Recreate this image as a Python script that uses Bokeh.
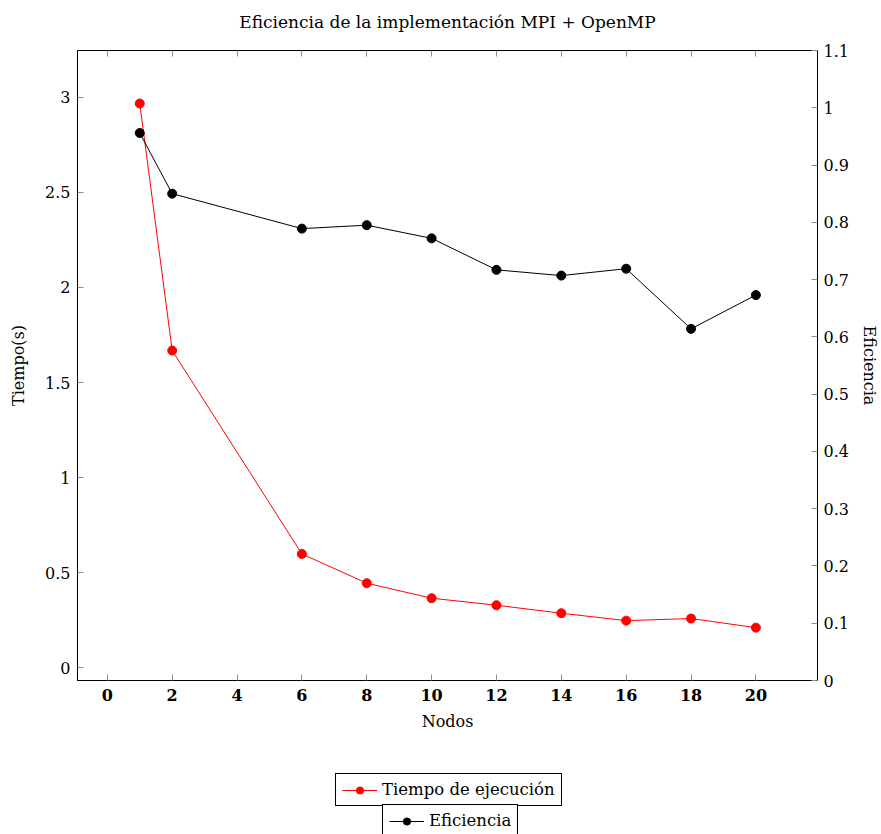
from bokeh.plotting import figure
from bokeh.layouts import column
from bokeh.models import (Range1d, LinearAxis, FixedTicker, Legend, LegendItem, Label)
from bokeh.embed import file_html
from bokeh.resources import INLINE

nodos = [1, 2, 6, 8, 10, 12, 14, 16, 18, 20]
tiempo = [2.968, 1.668, 0.598, 0.444, 0.365, 0.328, 0.286, 0.247, 0.258, 0.210]
eficiencia = [0.956, 0.850, 0.789, 0.795, 0.772, 0.717, 0.707, 0.719, 0.614, 0.673]
x_ticks = [0, 2, 4, 6, 8, 10, 12, 14, 16, 18, 20]
y_left_ticks = [0, 0.5, 1, 1.5, 2, 2.5, 3]
y_right_ticks = [0, 0.1, 0.2, 0.3, 0.4, 0.5, 0.6, 0.7, 0.8, 0.9, 1.0, 1.1]
series_labels = ["Tiempo de ejecución", "Eficiencia"]
series_colors = ["#ff0000", "#000000"]
title_text = "Eficiencia de la implementación MPI + OpenMP"

FONT = "DejaVu Serif"
FS = "16px"
TICK_GRAY = "#8c8c8c"

def blank_figure(h):
    f = figure(width=881, height=h, min_border=0, x_range=Range1d(0, 1), y_range=Range1d(0, 1),
               x_axis_type=None, y_axis_type=None, output_backend="svg", toolbar_location=None)
    f.grid.visible = False
    f.outline_line_color = None
    f.background_fill_color = "white"
    f.border_fill_color = "white"
    return f

# title strip
t = blank_figure(36)
t.add_layout(Label(x=0.5, y=0.39, text=title_text, text_align="center", text_baseline="middle",
                   text_font=FONT, text_font_size="17px", text_color="#000000"))

# main chart
p = figure(width=881, height=704,
           min_border_left=77, min_border_right=61, min_border_top=14, min_border_bottom=60,
           x_range=Range1d(-0.92, 21.9), y_range=Range1d(-0.068, 3.247),
           output_backend="svg", toolbar_location=None)
p.extra_y_ranges = {"ef": Range1d(0, 1.1)}

p.grid.visible = False
p.outline_line_color = "#000000"
p.outline_line_width = 1
p.outline_line_alpha = 1
p.background_fill_color = "white"
p.border_fill_color = "white"

def style_axis(ax, bold=False):
    ax.axis_line_color = "#000000"
    ax.axis_line_width = 1
    ax.major_tick_line_color = TICK_GRAY
    ax.major_tick_in = 6
    ax.major_tick_out = 0
    ax.minor_tick_line_color = None
    ax.major_label_text_font = FONT
    ax.major_label_text_font_size = FS
    ax.major_label_text_color = "#000000"
    ax.major_label_text_font_style = "bold" if bold else "normal"
    ax.axis_label_text_font = FONT
    ax.axis_label_text_font_size = FS
    ax.axis_label_text_font_style = "normal"
    ax.axis_label_text_color = "#000000"

xa = p.xaxis[0]
xa.ticker = FixedTicker(ticks=x_ticks)
xa.axis_label = "Nodos"
style_axis(xa, bold=True)
xa.major_label_standoff = 8
xa.axis_label_standoff = 8

ya = p.yaxis[0]
ya.ticker = FixedTicker(ticks=y_left_ticks)
ya.axis_label = "Tiempo(s)"
style_axis(ya)
ya.major_label_standoff = 7
ya.axis_label_standoff = 14

ra = LinearAxis(y_range_name="ef", axis_label="Eficiencia",
                ticker=FixedTicker(ticks=y_right_ticks))
style_axis(ra)
ra.major_label_standoff = 6
ra.axis_label_standoff = 8
p.add_layout(ra, "right")

# top mirrored ticks (labels not drawn)
ta = LinearAxis(ticker=FixedTicker(ticks=x_ticks))
style_axis(ta)
ta.major_label_text_color = None
ta.major_label_standoff = 0
p.add_layout(ta, "above")

l1 = p.line(nodos, tiempo, line_color=series_colors[0], line_width=1)
s1 = p.scatter(nodos, tiempo, size=9, fill_color=series_colors[0], line_color=series_colors[0])
l2 = p.line(nodos, eficiencia, line_color=series_colors[1], line_width=1, y_range_name="ef")
s2 = p.scatter(nodos, eficiencia, size=9, fill_color=series_colors[1],
               line_color=series_colors[1], y_range_name="ef")

# legend strip below the chart (its renderers are hidden copies of the series)
q = blank_figure(94)

def make_legend(label, color, xs, ys, loc):
    lr = q.line(xs, ys, line_color=color, line_width=1, visible=False)
    sr = q.scatter(xs, ys, size=9, fill_color=color, line_color=color, visible=False)
    lg = Legend(items=[LegendItem(label=label, renderers=[lr, sr])], location=loc,
                orientation="horizontal")
    lg.border_line_color = "#000000"
    lg.border_line_width = 1
    lg.border_line_alpha = 1
    lg.background_fill_color = "white"
    lg.background_fill_alpha = 1
    lg.inactive_fill_alpha = 0
    lg.label_text_font = FONT
    lg.label_text_font_size = "16.5px"
    lg.label_text_color = "#000000"
    lg.padding = 6
    lg.margin = 0
    lg.glyph_width = 35
    lg.glyph_height = 18
    lg.label_height = 18
    lg.label_standoff = 5
    lg.spacing = 0
    return lg

q.add_layout(make_legend(series_labels[0], series_colors[0], nodos, tiempo, (258, 28)))
q.add_layout(make_legend(series_labels[1], series_colors[1], nodos, eficiencia, (305, -3)))

open("out.html", "w").write(file_html(column(t, p, q, spacing=0), INLINE))
